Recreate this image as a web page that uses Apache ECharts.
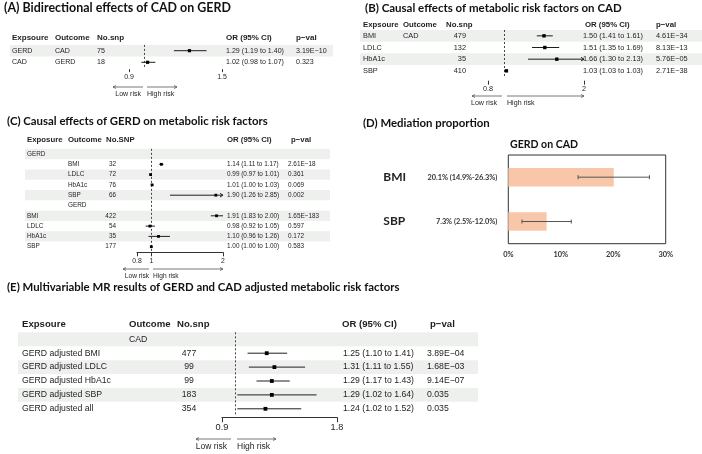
<!DOCTYPE html>
<html><head><meta charset="utf-8">
<script src="https://cdn.jsdelivr.net/npm/echarts@6/dist/echarts.min.js"></script>
<style>html,body{margin:0;padding:0;background:#fff}#c{width:702px;height:454px}</style>
</head><body><div id="c"></div>
<script>
// ---------------- DATA ----------------
const aExposure = ['GERD', 'CAD'];
const aOutcome  = ['CAD', 'GERD'];
const aNsnp     = ['75', '18'];
const aOR = [1.29, 1.02];
const aLo = [1.19, 0.98];
const aHi = [1.40, 1.07];
const aP  = ['3.19E\u221210', '0.323'];
const aTicks = [0.9, 1.5];

const bExposure = ['BMI', 'LDLC', 'HbA1c', 'SBP'];
const bOutcome  = ['CAD', '', '', ''];
const bNsnp     = ['479', '132', '35', '410'];
const bOR = [1.50, 1.51, 1.66, 1.03];
const bLo = [1.41, 1.35, 1.30, 1.03];
const bHi = [1.61, 1.69, 2.13, 1.03];
const bP  = ['4.61E\u221234', '8.13E\u221213', '5.76E\u221205', '2.71E\u221238'];
const bTicks = [0.8, 2];

const cExposure = ['GERD', '', '', '', '', '', 'BMI', 'LDLC', 'HbA1c', 'SBP'];
const cOutcome  = ['', 'BMI', 'LDLC', 'HbA1c', 'SBP', 'GERD', '', '', '', ''];
const cNsnp     = ['', '32', '72', '76', '66', '', '422', '54', '35', '177'];
const cOR = [null, 1.14, 0.99, 1.01, 1.90, null, 1.91, 0.98, 1.10, 1.00];
const cLo = [null, 1.11, 0.97, 1.00, 1.26, null, 1.83, 0.92, 0.96, 1.00];
const cHi = [null, 1.17, 1.01, 1.03, 2.85, null, 2.00, 1.05, 1.26, 1.00];
const cP  = ['', '2.61E\u221218', '0.361', '0.069', '0.002', '', '1.65E\u2212183', '0.597', '0.172', '0.583'];
const cTicks = [0.8, 1, 2];

const eExposure = ['', 'GERD adjusted BMI', 'GERD adjusted LDLC', 'GERD adjusted HbA1c', 'GERD adjusted SBP', 'GERD adjusted all'];
const eOutcome  = ['CAD', '', '', '', '', ''];
const eNsnp     = ['', '477', '99', '99', '183', '354'];
const eOR = [null, 1.25, 1.31, 1.29, 1.29, 1.24];
const eLo = [null, 1.10, 1.11, 1.17, 1.02, 1.02];
const eHi = [null, 1.41, 1.55, 1.43, 1.64, 1.52];
const eP  = ['', '3.89E\u221204', '1.68E\u221203', '9.14E\u221207', '0.035', '0.035'];
const eTicks = [0.9, 1.8];

const dMediator = ['BMI', 'SBP'];
const dProp  = [20.1, 7.3];
const dErrLo = [13.3, 2.6];
const dErrHi = [26.9, 12.0];
const dLabel = ['20.1% (14.9%-26.3%)', '7.3% (2.5%-12.0%)'];

const headAE = ['Expsoure', 'Outcome', 'No.snp', 'OR (95% CI)', 'p\u2212val'];
const headC  = ['Exposure', 'Outcome', 'No.SNP', 'OR (95% CI)', 'p\u2212val'];
const titles = [
  '(A) Bidirectional effects of CAD on GERD',
  '(B) Causal effects of metabolic risk factors on CAD',
  '(C) Causal effects of GERD on metabolic risk factors',
  '(D) Mediation proportion',
  '(E) Multivariable MR results of GERD and CAD adjusted metabolic risk factors'
];
const dTitle = 'GERD on CAD';

// ---------------- STYLE / LAYOUT ----------------
const INK = '#1e1e1e';
const STRIPE = '#eef0ee';
const BODY = '"Liberation Sans", Arial, sans-serif';
const TFONT = 'Lato, "Open Sans", sans-serif';

const mctx = document.createElement('canvas').getContext('2d');
function fit(text, family, weight, target) {
  mctx.font = weight + ' 100px ' + family;
  return 100 * target / mctx.measureText(text).width;
}
function T(text, x, y, size, o) {
  o = o || {};
  return {type: 'text', silent: true, z: 20, style: {
    text: text, x: x, y: y, fill: o.color || INK,
    font: (o.weight || 'normal') + ' ' + size + 'px ' + (o.family || BODY),
    textAlign: o.align || 'left', textVerticalAlign: 'middle'}};
}
function fmt(v) { return v.toFixed(2); }

const grid = [], xAxis = [], yAxis = [], series = [], graphic = [];

function forest(gi, L, d) {
  const n = d.or.length;
  const rowY = i => L.top + (i + 0.5) * L.rowH;
  grid.push({left: L.left, top: L.top, width: L.width, height: n * L.rowH});
  xAxis.push({gridIndex: gi, type: 'value', min: L.min, max: L.max, offset: L.axOff,
    axisLine: {show: L.axLine, lineStyle: {color: '#333', width: 1}},
    axisTick: {show: true, customValues: d.ticks, length: L.tickLen, lineStyle: {color: '#333', width: 1}},
    axisLabel: {customValues: d.ticks, fontSize: L.tickSize, fontFamily: BODY, color: INK, margin: L.lblMargin},
    splitLine: {show: false}});
  yAxis.push({gridIndex: gi, type: 'category', inverse: true, show: false,
    data: d.or.map((_, i) => 'r' + i)});
  series.push({type: 'custom', xAxisIndex: gi, yAxisIndex: gi, clip: false, z: 5,
    data: d.or.map((v, i) => v == null ? null : [v, i, d.lo[i], d.hi[i]]).filter(x => x),
    encode: {x: 0, y: 1},
    renderItem: function (params, api) {
      const est = api.value(0), row = api.value(1), lo = api.value(2), hi = api.value(3);
      const over = hi > L.max;
      const p0 = api.coord([lo, row]), p1 = api.coord([Math.min(hi, L.max), row]), pe = api.coord([est, row]);
      const s = L.box;
      const ch = [
        {type: 'line', shape: {x1: p0[0], y1: p0[1], x2: p1[0], y2: p1[1]}, style: {stroke: INK, lineWidth: 1}},
        {type: 'rect', shape: {x: pe[0] - s / 2, y: pe[1] - s / 2, width: s, height: s}, style: {fill: '#000'}}
      ];
      if (over) ch.push({type: 'polyline', shape: {points: [[p1[0] - 3, p1[1] - 1.8], [p1[0], p1[1]], [p1[0] - 3, p1[1] + 1.8]]},
        style: {stroke: INK, fill: null, lineWidth: 1}});
      return {type: 'group', children: ch};
    },
    markLine: {silent: true, symbol: 'none', label: {show: false}, animation: false,
      lineStyle: {type: [2, 2], color: '#444', width: 1}, data: [{xAxis: 1}]}
  });
  // stripes
  L.stripeRows.forEach(r => graphic.push({type: 'rect', silent: true, z: 0,
    shape: {x: L.stripeX, y: L.top + r * L.rowH, width: L.stripeW, height: L.rowH}, style: {fill: STRIPE}}));
  // headers
  d.heads.forEach((h, k) => graphic.push(T(h, L.headX[k], L.headY, L.headSize, {weight: 'bold'})));
  // body columns
  const orText = d.or.map((v, i) => v == null ? '' : fmt(v) + ' (' + fmt(d.lo[i]) + ' to ' + fmt(d.hi[i]) + ')');
  const cols = [d.exposure, d.outcome, d.nsnp, orText, d.p];
  cols.forEach((col, k) => col.forEach((t, i) => {
    if (t) graphic.push(T(t, L.colX[k], rowY(i), L.bodySize, {align: L.colAlign[k]}));
  }));
  // risk arrows
  const R = L.risk;
  const ac = '#555';
  graphic.push({type: 'line', silent: true, z: 20, shape: {x1: R.l[0], y1: R.y, x2: R.l[1], y2: R.y}, style: {stroke: ac, lineWidth: 0.8}});
  graphic.push({type: 'polyline', silent: true, z: 20, shape: {points: [[R.l[0] + 3, R.y - 1.5], [R.l[0], R.y], [R.l[0] + 3, R.y + 1.5]]}, style: {stroke: ac, fill: null, lineWidth: 0.8}});
  graphic.push({type: 'line', silent: true, z: 20, shape: {x1: R.r[0], y1: R.y, x2: R.r[1], y2: R.y}, style: {stroke: ac, lineWidth: 0.8}});
  graphic.push({type: 'polyline', silent: true, z: 20, shape: {points: [[R.r[1] - 3, R.y - 1.5], [R.r[1], R.y], [R.r[1] - 3, R.y + 1.5]]}, style: {stroke: ac, fill: null, lineWidth: 0.8}});
  graphic.push(T('Low risk', R.lowEnd, R.ty, R.size, {align: 'right'}));
  graphic.push(T('High risk', R.highStart, R.ty, R.size, {align: 'left'}));
}

// Panel A (grid 0)
forest(0, {left: 129, width: 93, top: 44.9, rowH: 11.6, min: 0.9, max: 1.5, axLine: false, axOff: 1, tickLen: 3,
  lblMargin: 4, tickSize: 7, box: 3.2, headY: 37.5, headSize: 8, bodySize: 7.1,
  headX: [12, 55, 97, 226, 296], colX: [12, 55, 97, 226, 296], colAlign: ['left', 'left', 'left', 'left', 'left'],
  stripeX: 10, stripeW: 323, stripeRows: [0],
  risk: {y: 87, ty: 94, l: [113, 143], r: [147, 177], lowEnd: 141, highStart: 147, size: 7}},
  {exposure: aExposure, outcome: aOutcome, nsnp: aNsnp, or: aOR, lo: aLo, hi: aHi, p: aP, ticks: aTicks, heads: headAE});

// Panel B (grid 1)
forest(1, {left: 488, width: 96, top: 30, rowH: 11.67, min: 0.8, max: 2, axLine: false, axOff: 4, tickLen: 4,
  lblMargin: 5, tickSize: 7.2, box: 3.4, headY: 25, headSize: 7.8, bodySize: 7.35,
  headX: [363, 403, 446, 585, 656], colX: [363, 403, 466, 583, 656], colAlign: ['left', 'left', 'right', 'left', 'left'],
  stripeX: 360, stripeW: 342, stripeRows: [0, 2],
  risk: {y: 96, ty: 103.5, l: [472, 502], r: [507, 584], lowEnd: 497, highStart: 507, size: 7.1}},
  {exposure: bExposure, outcome: bOutcome, nsnp: bNsnp, or: bOR, lo: bLo, hi: bHi, p: bP, ticks: bTicks, heads: headAE});

// Panel C (grid 2)
forest(2, {left: 137, width: 86, top: 148.85, rowH: 10.3, min: 0.8, max: 2, axLine: true, axOff: 0.5, tickLen: 4,
  lblMargin: 5.5, tickSize: 6.8, box: 2.8, headY: 140, headSize: 7.8, bodySize: 6.4,
  headX: [27, 68, 106, 227, 291], colX: [27, 68, 116, 227, 288], colAlign: ['left', 'left', 'right', 'left', 'left'],
  stripeX: 25, stripeW: 305, stripeRows: [0, 2, 4, 6, 8],
  risk: {y: 269, ty: 276, l: [123, 149], r: [153, 223], lowEnd: 149, highStart: 153, size: 6.6}},
  {exposure: cExposure, outcome: cOutcome, nsnp: cNsnp, or: cOR, lo: cLo, hi: cHi, p: cP, ticks: cTicks, heads: headC});

// Panel E (grid 3)
forest(3, {left: 222, width: 115, top: 332.35, rowH: 13.9, min: 0.9, max: 1.8, axLine: true, axOff: 1.5, tickLen: 5,
  lblMargin: 5.5, tickSize: 9.2, box: 3.8, headY: 324, headSize: 9.6, bodySize: 8.7,
  headX: [22, 129, 177, 342, 430], colX: [22, 129, 189, 343, 427], colAlign: ['left', 'left', 'center', 'left', 'left'],
  stripeX: 18, stripeW: 460, stripeRows: [0, 2, 4],
  risk: {y: 439, ty: 447, l: [196, 231], r: [237, 276], lowEnd: 227, highStart: 237, size: 8.5}},
  {exposure: eExposure, outcome: eOutcome, nsnp: eNsnp, or: eOR, lo: eLo, hi: eHi, p: eP, ticks: eTicks, heads: headAE});

// Panel D (grid 4)
const dLabSize = fit(dLabel[0], TFONT, 'bold', 70);
grid.push({left: 508.3, top: 155, width: 157.4, height: 88.7, show: true, borderColor: '#333', borderWidth: 1, backgroundColor: 'transparent'});
xAxis.push({gridIndex: 4, type: 'value', min: 0, max: 30, interval: 10,
  axisLine: {show: false}, axisTick: {show: false}, splitLine: {show: false},
  axisLabel: {formatter: '{value}%', fontFamily: TFONT, fontWeight: 'bold', fontSize: 7.4, color: '#333', margin: 7}});
yAxis.push({gridIndex: 4, type: 'category', inverse: true, data: dMediator,
  axisLine: {show: false}, axisTick: {show: false},
  axisLabel: {margin: 11, formatter: (v, i) => '{n|' + v + '}{v|' + dLabel[i] + '}',
    rich: {n: {fontFamily: TFONT, fontWeight: 'bold', fontSize: 12, width: 40, align: 'left', color: '#222'},
           v: {fontFamily: TFONT, fontWeight: 'bold', fontSize: dLabSize, width: 74, align: 'right', color: '#333'}}}});
series.push({type: 'bar', xAxisIndex: 4, yAxisIndex: 4, data: dProp, barWidth: 18.5,
  itemStyle: {color: '#f8c6a8'}, z: 2});
series.push({type: 'custom', xAxisIndex: 4, yAxisIndex: 4, z: 5, clip: false,
  data: dProp.map((v, i) => [dErrLo[i], i, dErrHi[i]]), encode: {x: 0, y: 1},
  renderItem: function (params, api) {
    const i = api.value(1);
    const a = api.coord([api.value(0), i]), b = api.coord([api.value(2), i]);
    const st = {stroke: '#555', lineWidth: 1};
    return {type: 'group', children: [
      {type: 'line', shape: {x1: a[0], y1: a[1], x2: b[0], y2: b[1]}, style: st},
      {type: 'line', shape: {x1: a[0], y1: a[1] - 2, x2: a[0], y2: a[1] + 2}, style: st},
      {type: 'line', shape: {x1: b[0], y1: b[1] - 2, x2: b[0], y2: b[1] + 2}, style: st}
    ]};
  }});

// Titles
const tPos = [[4, 8, 227], [365, 8, 257], [7, 121, 261], [363, 123, 127], [7, 287, 393]];
titles.forEach((t, k) => {
  const sz = fit(t, TFONT, 'bold', tPos[k][2]);
  graphic.push(T(t, tPos[k][0], tPos[k][1], sz, {weight: 'bold', family: TFONT, color: '#111'}));
});
graphic.push(T(dTitle, 544, 144.3, fit(dTitle, TFONT, 'bold', 68), {weight: 'bold', family: TFONT, align: 'center', color: '#111'}));

const chart = echarts.init(document.getElementById('c'), null, {renderer: 'canvas'});
chart.setOption({animation: false, backgroundColor: '#fff', grid, xAxis, yAxis, series, graphic});
</script></body></html>
